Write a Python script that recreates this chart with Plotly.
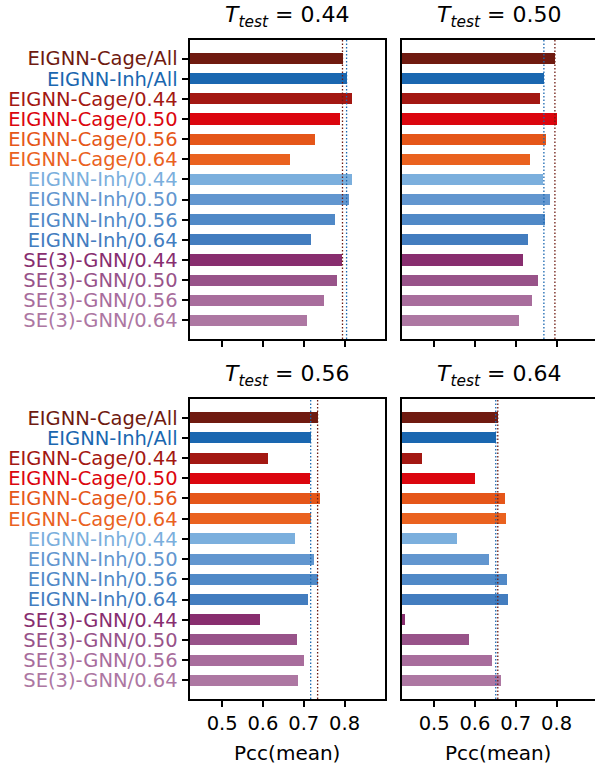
import plotly.graph_objects as go

categories = ["EIGNN-Cage/All", "EIGNN-Inh/All", "EIGNN-Cage/0.44", "EIGNN-Cage/0.50",
              "EIGNN-Cage/0.56", "EIGNN-Cage/0.64", "EIGNN-Inh/0.44", "EIGNN-Inh/0.50",
              "EIGNN-Inh/0.56", "EIGNN-Inh/0.64", "SE(3)-GNN/0.44", "SE(3)-GNN/0.50",
              "SE(3)-GNN/0.56", "SE(3)-GNN/0.64"]
colors = ["#6F1A10", "#1A67B0", "#A31812", "#DB060E", "#E55619", "#EA621F",
          "#7BAFDD", "#6296CF", "#5089C7", "#437DBF", "#882E6F", "#985389",
          "#A86D9C", "#AD77A2"]

panel_titles = ["0.44", "0.50", "0.56", "0.64"]
pcc_t044 = [0.795, 0.805, 0.817, 0.788, 0.726, 0.665, 0.817, 0.810, 0.775, 0.717, 0.793, 0.780, 0.748, 0.707]
pcc_t050 = [0.796, 0.769, 0.759, 0.799, 0.774, 0.734, 0.766, 0.783, 0.771, 0.730, 0.717, 0.754, 0.739, 0.707]
pcc_t056 = [0.734, 0.717, 0.611, 0.714, 0.739, 0.717, 0.677, 0.724, 0.734, 0.709, 0.592, 0.682, 0.699, 0.685]
pcc_t064 = [0.656, 0.651, 0.470, 0.600, 0.673, 0.676, 0.556, 0.632, 0.678, 0.681, 0.428, 0.585, 0.641, 0.663]
x_ticks = [0.5, 0.6, 0.7, 0.8]
x_title = "Pcc(mean)"

panels = [pcc_t044, pcc_t050, pcc_t056, pcc_t064]

W, H = 595, 770
FONT = "DejaVu Sans"

# panel boxes in page pixels (left, right, top, bottom)
boxes = [(189.5, 385, 40, 339), (401.5, 597, 40, 339),
         (189.5, 385, 399, 699), (401.5, 597, 399, 699)]
px_per_unit = 408.0
x0 = 0.42

fig = go.Figure()
layout = dict(width=W, height=H, margin=dict(l=0, r=0, t=0, b=0),
              paper_bgcolor="white", plot_bgcolor="white", showlegend=False,
              font=dict(family=FONT, color="black"))

ypos = list(range(len(categories)))
ticktext = [f'<span style="color:{c}">{t}</span>' for t, c in zip(categories, colors)]
shapes = []
annotations = []

for i, vals in enumerate(panels):
    l, r, t, b = boxes[i]
    xa = "x" if i == 0 else f"x{i+1}"
    ya = "y" if i == 0 else f"y{i+1}"
    xkey = "xaxis" if i == 0 else f"xaxis{i+1}"
    ykey = "yaxis" if i == 0 else f"yaxis{i+1}"
    rpx = min(r, W)
    fig.add_trace(go.Bar(x=vals, y=ypos, orientation="h", marker=dict(color=colors, line=dict(width=0)),
                         width=0.55, xaxis=xa, yaxis=ya))
    left_col = (i % 2 == 0)
    bottom_row = (i >= 2)
    xa_dict = dict(domain=[l / W, rpx / W], range=[x0, x0 + (rpx - l) / px_per_unit],
                   anchor=ya, tickvals=x_ticks, ticktext=[str(v) for v in x_ticks],
                   showticklabels=bottom_row, ticks="outside", ticklen=6, tickwidth=1.5,
                   tickcolor="black", showline=True, linecolor="black", linewidth=2,
                   mirror=True, showgrid=False, zeroline=False,
                   tickfont=dict(size=19.5, family=FONT, color="black"))
    if bottom_row:
        xa_dict["title"] = dict(text=x_title, font=dict(size=20, family=FONT, color="black"), standoff=12)
    layout[xkey] = xa_dict
    layout[ykey] = dict(domain=[(H - b) / H, (H - t) / H], range=[13.925, -0.925], anchor=xa,
                        tickvals=ypos, ticktext=ticktext, showticklabels=left_col,
                        ticks="outside" if left_col else "", ticklen=6, tickwidth=1.5, tickcolor="black",
                        showline=True, linecolor="black", linewidth=2, mirror=left_col,
                        showgrid=False, zeroline=False, tickfont=dict(size=19.5, family=FONT))
    # reference lines at the two "All" models
    for v, c in [(vals[1], colors[1]), (vals[0], colors[0])]:
        shapes.append(dict(type="line", xref=xa, yref=f"{ya} domain", x0=v, x1=v, y0=0, y1=1,
                           line=dict(color=c, width=1.3, dash="1.5px,2px")))
    cx = ((l + rpx) / 2) if left_col else ((l + r) / 2)
    annotations.append(dict(text=f"<i>T</i><sub><i>test</i></sub> = {panel_titles[i]}",
                            xref="paper", yref="paper", x=cx / W,
                            y=(H - t + 7) / H, xanchor="center", yanchor="bottom", showarrow=False,
                            font=dict(size=22, family=FONT, color="black")))

layout["shapes"] = shapes
layout["annotations"] = annotations
layout["bargap"] = 0
fig.update_layout(**layout)
fig.write_html("out.html", config={"displayModeBar": False},
               post_script="document.body.style.margin='0';document.body.style.overflow='hidden';")
